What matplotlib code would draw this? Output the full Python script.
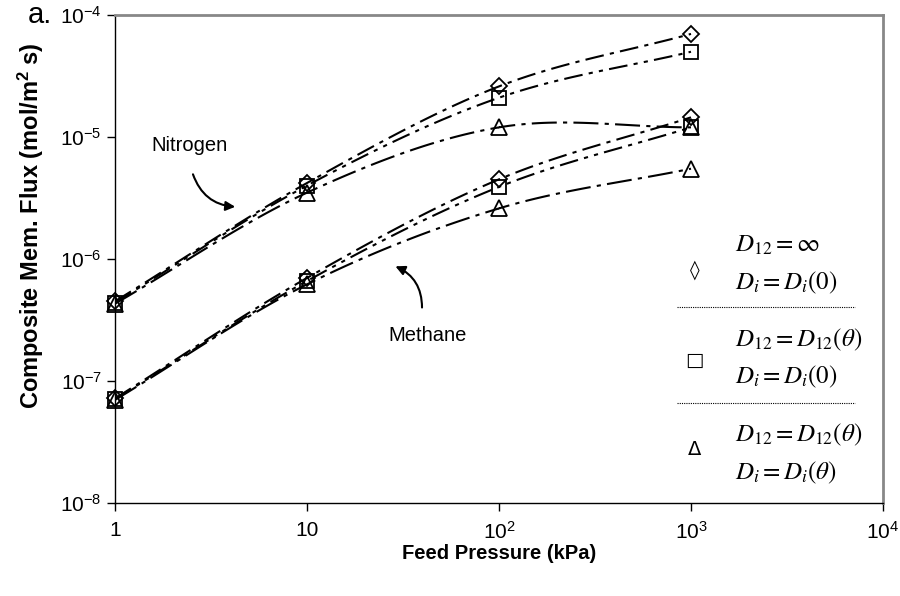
import numpy as np
import matplotlib
matplotlib.use("Agg")
import matplotlib.pyplot as plt

plt.rcParams['font.family'] = ['Liberation Sans', 'DejaVu Sans']
plt.rcParams['mathtext.fontset'] = 'stix'

# Feed pressure (kPa)
pressure = [1, 10, 100, 1000]

# Nitrogen flux (mol/m2 s)
n2_inf = [4.5e-7, 4.2e-6, 2.6e-5, 7.0e-5]
n2_theta0 = [4.4e-7, 4.0e-6, 2.1e-5, 5.0e-5]
n2_theta = [4.3e-7, 3.5e-6, 1.2e-5, 1.2e-5]

# Methane flux (mol/m2 s)
ch4_inf = [7.2e-8, 7.0e-7, 4.5e-6, 1.45e-5]
ch4_theta0 = [7.1e-8, 6.6e-7, 3.9e-6, 1.2e-5]
ch4_theta = [7.0e-8, 6.2e-7, 2.6e-6, 5.5e-6]

xticklabels = ['1', '10', r'$\mathregular{10^2}$', r'$\mathregular{10^3}$', r'$\mathregular{10^4}$']
yticklabels = [r'$\mathregular{10^{-8}}$', r'$\mathregular{10^{-7}}$', r'$\mathregular{10^{-6}}$',
               r'$\mathregular{10^{-5}}$', r'$\mathregular{10^{-4}}$']


def smooth(x, y, n=40):
    # Catmull-Rom curve through the points, in log space (like Excel smoothed lines)
    lx = np.log10(x)
    ly = np.log10(y)
    px = np.concatenate([[2 * lx[0] - lx[1]], lx, [2 * lx[-1] - lx[-2]]])
    py = np.concatenate([[2 * ly[0] - ly[1]], ly, [2 * ly[-1] - ly[-2]]])
    xs, ys = [], []
    t = np.linspace(0, 1, n)
    for i in range(1, len(px) - 2):
        for p, out in ((px, xs), (py, ys)):
            p0, p1, p2, p3 = p[i - 1], p[i], p[i + 1], p[i + 2]
            out.extend(0.5 * ((2 * p1) + (-p0 + p2) * t
                              + (2 * p0 - 5 * p1 + 4 * p2 - p3) * t ** 2
                              + (-p0 + 3 * p1 - 3 * p2 + p3) * t ** 3))
    return 10 ** np.array(xs), 10 ** np.array(ys)


fig = plt.figure(figsize=(9, 5.96), dpi=100)
ax = fig.add_axes([0.1278, 0.156, 0.8533, 0.8188])

styles = [
    (n2_inf, 'D', (0, (9, 3, 2, 3))),
    (n2_theta0, 's', (0, (9, 3, 2, 3, 2, 3))),
    (n2_theta, '^', (0, (12, 3, 2, 3))),
    (ch4_inf, 'D', (0, (9, 3, 2, 3))),
    (ch4_theta0, 's', (0, (9, 3, 2, 3, 2, 3))),
    (ch4_theta, '^', (0, (12, 3, 2, 3))),
]
msize = {'D': 8.5, 's': 9.5, '^': 11}
for vals, mk, ls in styles:
    sx, sy = smooth(pressure, vals)
    ax.plot(sx, sy, color='black', lw=1.5, linestyle=ls)
    ax.plot(pressure, vals, linestyle='none', marker=mk, ms=msize[mk],
            mfc='none', mec='black', mew=1.3, zorder=3, clip_on=False)

ax.set_xscale('log')
ax.set_yscale('log')
ax.set_xlim(1, 1e4)
ax.set_ylim(1e-8, 1e-4)
ax.set_xticks([1, 10, 100, 1000, 10000])
ax.set_xticklabels(xticklabels)
ax.set_yticks([1e-8, 1e-7, 1e-6, 1e-5, 1e-4])
ax.set_yticklabels(yticklabels)
ax.minorticks_off()
ax.tick_params(direction='out', length=6, width=1, labelsize=15, color='black')
ax.tick_params(axis='x', pad=7)

for s in ['left', 'bottom']:
    ax.spines[s].set_color('black')
    ax.spines[s].set_linewidth(1)
for s in ['top', 'right']:
    ax.spines[s].set_color('#888888')
    ax.spines[s].set_linewidth(2)

ax.set_xlabel('Feed Pressure (kPa)', fontsize=14.5, fontweight='bold')
ax.xaxis.set_label_coords(0.5, -0.084)
ax.set_ylabel(r'Composite Mem. Flux (mol/m$\mathregular{^2}$ s)', fontsize=17,
              fontweight='bold')
ax.yaxis.set_label_coords(-0.09, 0.568)

fig.text(0.031, 0.975, 'a.', fontsize=21, va='center', ha='left')

# annotations
ax.annotate('', xy=(4.37, 2.67e-6), xytext=(2.52, 5.2e-6),
            arrowprops=dict(arrowstyle='-|>', color='black', lw=1.5,
                            connectionstyle='arc3,rad=0.35', mutation_scale=14))
ax.text(2.43, 8.6e-6, 'Nitrogen', fontsize=14.5, ha='center', va='center')
ax.annotate('', xy=(28, 8.9e-7), xytext=(39.7, 3.8e-7),
            arrowprops=dict(arrowstyle='-|>', color='black', lw=1.5,
                            connectionstyle='arc3,rad=0.35', mutation_scale=14))
ax.text(42.2, 2.38e-7, 'Methane', fontsize=14.5, ha='center', va='center')

# custom legend
tr = ax.transAxes
legend_rows = [
    ('\u25ca', 0.477, r'$D_{12}=\infty$', r'$D_i=D_i\left(0\right)$', 0.529, 0.451),
    ('\u25a1', 0.293, r'$D_{12}=D_{12}\left(\theta\right)$', r'$D_i=D_i\left(0\right)$', 0.334, 0.258),
    ('\u0394', 0.109, r'$D_{12}=D_{12}\left(\theta\right)$', r'$D_i=D_i\left(\theta\right)$', 0.139, 0.061),
]
for glyph, gy, t1, t2, y1, y2 in legend_rows:
    ax.text(0.755, gy, glyph, transform=tr, fontsize=14, ha='center', va='center',
            family=['DejaVu Sans'])
    ax.text(0.807, y1, t1, transform=tr, fontsize=18, ha='left', va='center')
    ax.text(0.807, y2, t2, transform=tr, fontsize=18, ha='left', va='center')
for yy in [0.402, 0.205]:
    ax.plot([0.732, 0.964], [yy, yy], transform=tr, color='black', lw=0.8,
            linestyle=(0, (1, 1)))

fig.savefig('out.png', dpi=100)
